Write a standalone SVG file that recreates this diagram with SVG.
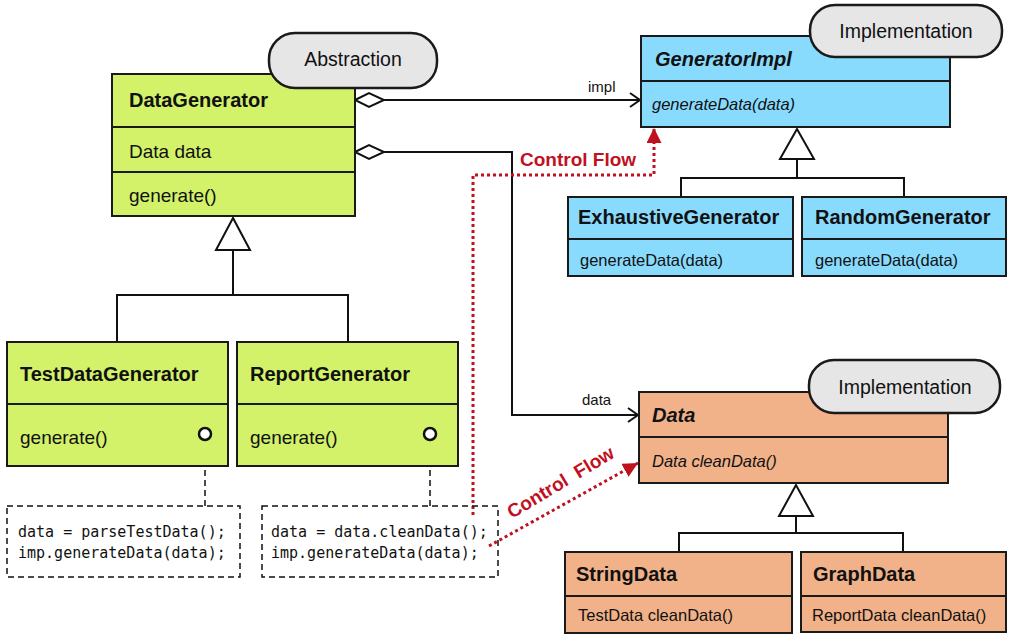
<svg xmlns="http://www.w3.org/2000/svg" width="1013" height="639" viewBox="0 0 1013 639">
<style>
text{font-family:"Liberation Sans",Arial,sans-serif;fill:#111}
.box{stroke:#1a1a1a;stroke-width:2}
.green{fill:#d3f26a}
.blue{fill:#89dbfe}
.orange{fill:#f1b189}
.div{stroke:#1a1a1a;stroke-width:2;fill:none}
.title{font-size:20px;font-weight:bold}
.big{font-size:19px}
.small{font-size:16.5px}
.ital{font-style:italic}
.pill{fill:#e6e6e6;stroke:#1a1a1a;stroke-width:2.5}
.pilltxt{font-size:19.5px;text-anchor:middle}
.line{stroke:#111;stroke-width:2;fill:none}
.dash{stroke:#111;stroke-width:1.5;fill:none;stroke-dasharray:6 4}
.code{font-family:"DejaVu Sans Mono","Liberation Mono",monospace;font-size:15px}
.red{stroke:#c0111f;stroke-width:3;fill:none;stroke-dasharray:3 3}
.redtxt{fill:#c0111f;font-size:19px;font-weight:bold}
.lbl{font-size:15px}
</style>
<defs>
<marker id="redArrow" viewBox="0 0 10 10" refX="10" refY="5" markerWidth="5" markerHeight="5" orient="auto" markerUnits="strokeWidth">
<path d="M0,0 L10,5 L0,10 z" fill="#c0111f"/>
</marker>
</defs>

<g id="connectors">
<line class="line" x1="384" y1="100" x2="640" y2="100"/>
<polygon points="355,100 369,93 384,100 369,107" fill="#fff" stroke="#111" stroke-width="2"/>
<polyline class="line" points="630,93 640,100 630,107"/>
<text class="lbl" x="588" y="92">impl</text>
<polyline class="line" points="384,152 512,152 512,415 637,415"/>
<polygon points="355,152 369,145 384,152 369,159" fill="#fff" stroke="#111" stroke-width="2"/>
<polyline class="line" points="628,408 638,415 628,422"/>
<text class="lbl" x="582" y="405">data</text>
<polyline class="line" points="233,250 233,295"/>
<polyline class="line" points="117,342 117,295 348,295 348,342"/>
<polygon points="233,218 216,250 250,250" fill="#fff" stroke="#111" stroke-width="2"/>
<polyline class="line" points="797,159 797,178"/>
<polyline class="line" points="681,197 681,178 904,178 904,197"/>
<polygon points="797,129 780,159 814,159" fill="#fff" stroke="#111" stroke-width="2"/>
<polyline class="line" points="796,516 796,533"/>
<polyline class="line" points="679,552 679,533 903,533 903,552"/>
<polygon points="796,485 779,516 813,516" fill="#fff" stroke="#111" stroke-width="2"/>
<line class="dash" x1="205" y1="440" x2="205" y2="506"/>
<line class="dash" x1="430" y1="440" x2="430" y2="506"/>
<path class="red" d="M473,515 V175 H654 V128" marker-end="url(#redArrow)"/>
<text class="redtxt" x="520" y="166">Control Flow</text>
<path class="red" d="M489,546 L638,463" marker-end="url(#redArrow)"/>
<text class="redtxt" x="512" y="519" word-spacing="5" transform="rotate(-31 512 519)">Control Flow</text>
</g>

<g id="DataGenerator">
<rect class="box green" x="112" y="74" width="243" height="142"/>
<line class="div" x1="112" y1="127" x2="355" y2="127"/>
<line class="div" x1="112" y1="172" x2="355" y2="172"/>
<text class="title" x="129" y="107">DataGenerator</text>
<text class="big" x="129" y="158">Data data</text>
<text class="big" x="129" y="202">generate()</text>
</g>
<g id="Abstraction">
<rect class="pill" x="269" y="33" width="168" height="55" rx="26"/>
<text class="pilltxt" x="353" y="66">Abstraction</text>
</g>

<g id="GeneratorImpl">
<rect class="box blue" x="641" y="36" width="309" height="91"/>
<line class="div" x1="641" y1="81" x2="950" y2="81"/>
<text class="title ital" x="655" y="66">GeneratorImpl</text>
<text class="small ital" x="652" y="110">generateData(data)</text>
</g>
<g id="ImplementationTop">
<rect class="pill" x="810" y="5" width="192" height="52" rx="25"/>
<text class="pilltxt" x="906" y="38">Implementation</text>
</g>

<g id="ExhaustiveGenerator">
<rect class="box blue" x="568" y="197" width="225" height="79"/>
<line class="div" x1="568" y1="239" x2="793" y2="239"/>
<text class="title" x="578" y="224">ExhaustiveGenerator</text>
<text class="small" x="580" y="266">generateData(data)</text>
</g>
<g id="RandomGenerator">
<rect class="box blue" x="802" y="197" width="204" height="79"/>
<line class="div" x1="802" y1="239" x2="1006" y2="239"/>
<text class="title" x="815" y="224">RandomGenerator</text>
<text class="small" x="815" y="266">generateData(data)</text>
</g>

<g id="TestDataGenerator">
<rect class="box green" x="7" y="342" width="221" height="124"/>
<line class="div" x1="7" y1="404" x2="228" y2="404"/>
<text class="title" x="20" y="381">TestDataGenerator</text>
<text class="big" x="20" y="444">generate()</text>
<circle cx="205" cy="434" r="6" fill="#fff" stroke="#111" stroke-width="2.5"/>
</g>
<g id="ReportGenerator">
<rect class="box green" x="237" y="342" width="221" height="124"/>
<line class="div" x1="237" y1="404" x2="458" y2="404"/>
<text class="title" x="250" y="381">ReportGenerator</text>
<text class="big" x="250" y="444">generate()</text>
<circle cx="430" cy="434" r="6" fill="#fff" stroke="#111" stroke-width="2.5"/>
</g>

<g id="Note1">
<rect class="dash" x="7" y="506" width="233" height="71" fill="#fff"/>
<text class="code" x="18" y="537">data = parseTestData();</text>
<text class="code" x="18" y="558">imp.generateData(data);</text>
</g>
<g id="Note2">
<rect class="dash" x="262" y="506" width="236" height="71" fill="none"/>
<text class="code" x="271" y="537">data = data.cleanData();</text>
<text class="code" x="271" y="558">imp.generateData(data);</text>
</g>

<g id="Data">
<rect class="box orange" x="639" y="392" width="309" height="91"/>
<line class="div" x1="639" y1="437" x2="948" y2="437"/>
<text class="title ital" x="652" y="422">Data</text>
<text class="small ital" x="652" y="467">Data cleanData()</text>
</g>
<g id="ImplementationBottom">
<rect class="pill" x="809" y="360" width="191" height="53" rx="25"/>
<text class="pilltxt" x="905" y="394">Implementation</text>
</g>

<g id="StringData">
<rect class="box orange" x="565" y="552" width="227" height="81"/>
<line class="div" x1="565" y1="596" x2="792" y2="596"/>
<text class="title" x="576" y="581">StringData</text>
<text class="small" x="578" y="621">TestData cleanData()</text>
</g>
<g id="GraphData">
<rect class="box orange" x="801" y="552" width="205" height="80"/>
<line class="div" x1="801" y1="596" x2="1006" y2="596"/>
<text class="title" x="813" y="581">GraphData</text>
<text class="small" x="812" y="621">ReportData cleanData()</text>
</g>
</svg>
